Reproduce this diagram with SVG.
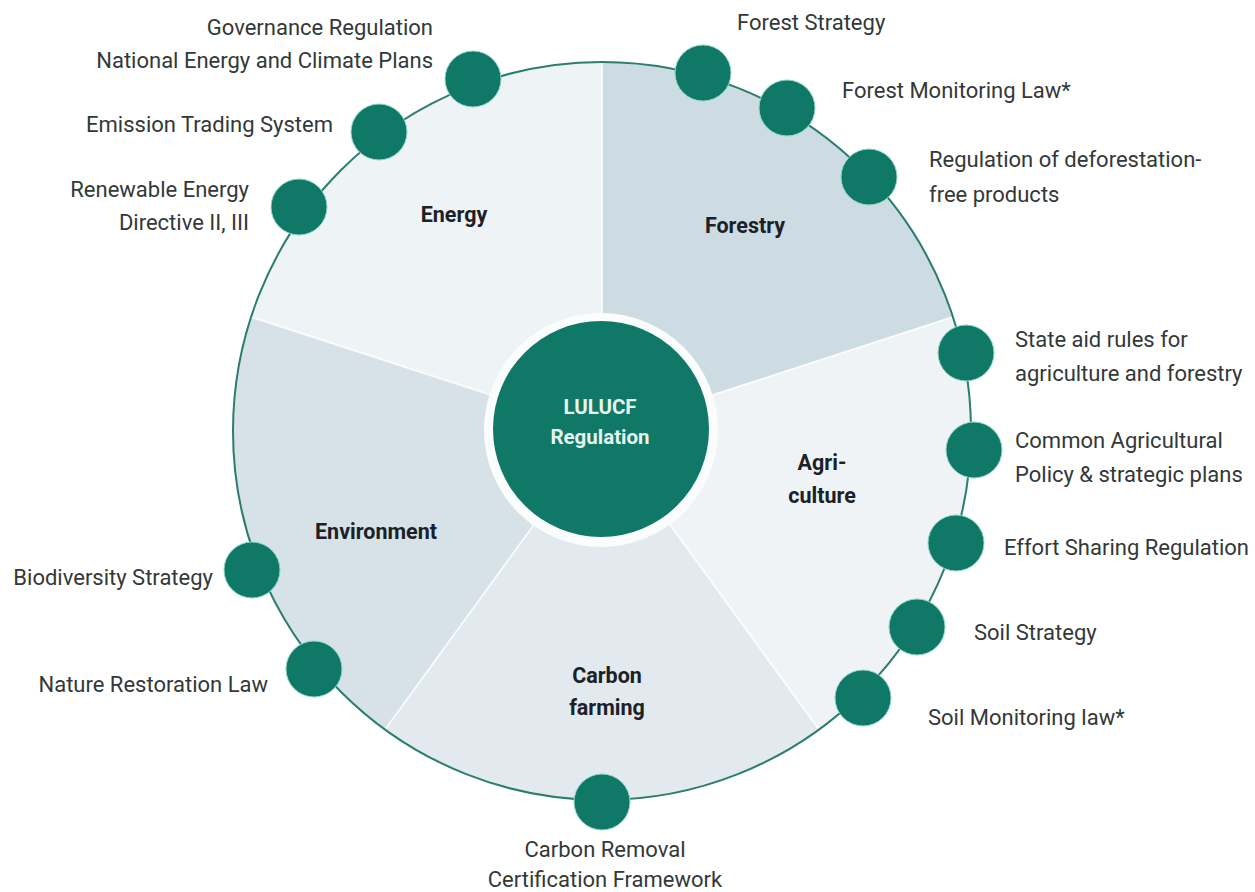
<svg xmlns="http://www.w3.org/2000/svg" width="1255" height="892" viewBox="0 0 1255 892">
<style>
.lbl{font-family:Roboto,"Liberation Sans",sans-serif;font-size:22px;fill:#333838}
.sec{font-family:Roboto,"Liberation Sans",sans-serif;font-size:21.5px;font-weight:bold;fill:#1c2127;text-anchor:middle}
.ctr{font-family:Roboto,"Liberation Sans",sans-serif;font-size:20.5px;font-weight:bold;fill:#e6f4ef;text-anchor:middle}
.node{fill:#0f7866;stroke:#8fd6c6;stroke-width:1}
.sep{stroke:#ffffff;stroke-width:2;opacity:0.8}
.r{text-anchor:end}
.m{text-anchor:middle}
</style>
<rect width="1255" height="892" fill="#ffffff"/>
<g id="sectors">
<path id="energy" d="M602 431 L251.06 316.97 A369 369 0 0 1 602 62 Z" fill="#eef3f6"/>
<path id="forestry" d="M602 431 L602 62 A369 369 0 0 1 952.94 316.97 Z" fill="#cddce3"/>
<path id="agriculture" d="M602 431 L952.94 316.97 A369 369 0 0 1 818.89 729.53 Z" fill="#eff3f6"/>
<path id="carbon" d="M602 431 L818.89 729.53 A369 369 0 0 1 385.11 729.53 Z" fill="#e2e9ef"/>
<path id="environment" d="M602 431 L385.11 729.53 A369 369 0 0 1 251.06 316.97 Z" fill="#d6e1e8"/>
<line class="sep" x1="602" y1="431" x2="602" y2="62"/>
<line class="sep" x1="602" y1="431" x2="952.94" y2="316.97"/>
<line class="sep" x1="602" y1="431" x2="818.89" y2="729.53"/>
<line class="sep" x1="602" y1="431" x2="385.11" y2="729.53"/>
<line class="sep" x1="602" y1="431" x2="251.06" y2="316.97"/>
<text class="sec" x="454" y="222">Energy</text>
<text class="sec" x="745" y="233">Forestry</text>
<text class="sec" x="822" y="470">Agri-</text>
<text class="sec" x="822" y="503">culture</text>
<text class="sec" x="607" y="683">Carbon</text>
<text class="sec" x="607" y="715">farming</text>
<text class="sec" x="376" y="539">Environment</text>
</g>
<g id="connectors">
<circle cx="602" cy="431" r="369" fill="none" stroke="#2b7d6e" stroke-width="2"/>
</g>
<g id="center">
<circle cx="601" cy="430" r="117" fill="#fbfdfd"/>
<circle cx="601" cy="429" r="108" fill="#0f7866"/>
<text class="ctr" x="600" y="414">LULUCF</text>
<text class="ctr" x="600" y="444">Regulation</text>
</g>
<g id="n-governance"><circle class="node" cx="473" cy="79" r="28"/><text class="lbl r" x="433" y="35">Governance Regulation</text><text class="lbl r" x="433" y="68">National Energy and Climate Plans</text></g>
<g id="n-ets"><circle class="node" cx="379" cy="132" r="28"/><text class="lbl r" x="333" y="132">Emission Trading System</text></g>
<g id="n-red"><circle class="node" cx="299" cy="207" r="28"/><text class="lbl r" x="249" y="197">Renewable Energy</text><text class="lbl r" x="249" y="230">Directive II, III</text></g>
<g id="n-forest-strategy"><circle class="node" cx="703" cy="73" r="28"/><text class="lbl" x="737" y="30">Forest Strategy</text></g>
<g id="n-forest-monitoring"><circle class="node" cx="787" cy="108" r="28"/><text class="lbl" x="842" y="98">Forest Monitoring Law*</text></g>
<g id="n-deforestation"><circle class="node" cx="869" cy="177" r="28"/><text class="lbl" x="929" y="167">Regulation of deforestation-</text><text class="lbl" x="929" y="202">free products</text></g>
<g id="n-state-aid"><circle class="node" cx="966" cy="353" r="28"/><text class="lbl" x="1015" y="347">State aid rules for</text><text class="lbl" x="1015" y="381">agriculture and forestry</text></g>
<g id="n-cap"><circle class="node" cx="974" cy="450" r="28"/><text class="lbl" x="1015" y="448">Common Agricultural</text><text class="lbl" x="1015" y="482">Policy &amp; strategic plans</text></g>
<g id="n-effort"><circle class="node" cx="956" cy="543" r="28"/><text class="lbl" x="1004" y="555">Effort Sharing Regulation</text></g>
<g id="n-soil-strategy"><circle class="node" cx="917" cy="627" r="28"/><text class="lbl" x="974" y="640">Soil Strategy</text></g>
<g id="n-soil-monitoring"><circle class="node" cx="863" cy="698" r="28"/><text class="lbl" x="928" y="725">Soil Monitoring law*</text></g>
<g id="n-crcf"><circle class="node" cx="602" cy="802" r="28"/><text class="lbl m" x="605" y="857">Carbon Removal</text><text class="lbl m" x="605" y="887">Certification Framework</text></g>
<g id="n-nature"><circle class="node" cx="314" cy="669" r="28"/><text class="lbl r" x="268" y="692">Nature Restoration Law</text></g>
<g id="n-biodiversity"><circle class="node" cx="252" cy="570" r="28"/><text class="lbl r" x="213" y="585">Biodiversity Strategy</text></g>
</svg>
